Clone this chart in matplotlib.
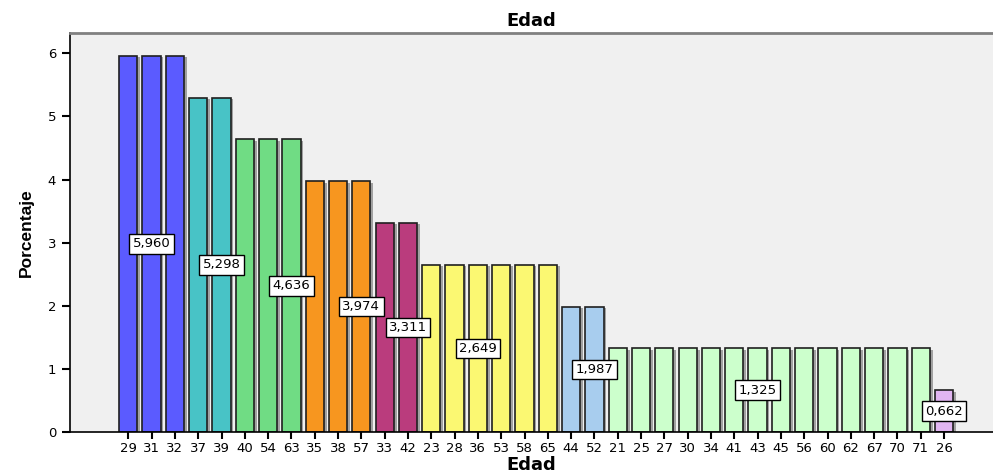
import matplotlib.pyplot as plt
import matplotlib.patheffects as pe

# Edad (age) categories in the order shown, and their percentages
edades = ['29', '31', '32', '37', '39', '40', '54', '63', '35', '38', '57',
          '33', '42', '23', '28', '36', '53', '58', '65', '44', '52',
          '21', '25', '27', '30', '34', '41', '43', '45', '56', '60', '62',
          '67', '70', '71', '26']
grupo_valores = [5.960, 5.298, 4.636, 3.974, 3.311, 2.649, 1.987, 1.325, 0.662]
grupo_tamanos = [3, 2, 3, 3, 2, 6, 2, 14, 1]
grupo_colores = ['#5b5bff', '#48c3c6', '#70dc84', '#f7961f', '#ba3c7d',
                 '#fbf872', '#a8cdee', '#ccffcc', '#e1b5f1']
grupo_etiquetas = ['5,960', '5,298', '4,636', '3,974', '3,311', '2,649',
                   '1,987', '1,325', '0,662']
# bar on which each group's label is placed
etiqueta_idx = [1, 4, 7, 10, 12, 15, 20, 27, 35]

porcentajes = []
colores = []
for v, n, c in zip(grupo_valores, grupo_tamanos, grupo_colores):
    porcentajes += [v] * n
    colores += [c] * n

plt.rcParams['font.family'] = ['DejaVu Sans']

fig = plt.figure(figsize=(9.93, 4.74), dpi=100)
ax = fig.add_axes([0.0705, 0.0886, 0.9295, 0.8414])
ax.set_facecolor('#f0f0f0')

x = list(range(len(edades)))
bars = ax.bar(x, porcentajes, width=0.78, color=colores, edgecolor='#202020',
              linewidth=1.2, zorder=2)
for b in bars:
    b.set_path_effects([pe.SimplePatchShadow(offset=(2, -1), shadow_rgbFace='#808080', alpha=0.7),
                        pe.Normal()])

for v, lab, i in zip(grupo_valores, grupo_etiquetas, etiqueta_idx):
    ax.text(i, v / 2, lab, ha='center', va='center', fontsize=9.5, zorder=3,
            bbox=dict(boxstyle='square,pad=0.25', fc='white', ec='black', lw=1))

ax.set_xlim(-2.5, 37.1)
ax.set_ylim(0, 6.32)
ax.set_xticks(x)
ax.set_xticklabels(edades, fontsize=9.5)
ax.set_yticks([0, 1, 2, 3, 4, 5, 6])
ax.tick_params(axis='y', labelsize=9.5, length=6, width=1.5, direction='out', pad=4)
ax.tick_params(axis='x', length=5, width=1.5, direction='out', pad=2)

for s in ['left', 'bottom']:
    ax.spines[s].set_linewidth(1.2)
    ax.spines[s].set_color('black')
ax.spines['top'].set_color('#808080')
ax.spines['top'].set_linewidth(2)
ax.spines['right'].set_visible(False)

ax.set_title('Edad', fontsize=13, fontweight='bold', pad=5)
ax.set_xlabel('Edad', fontsize=13, fontweight='bold', labelpad=1)
ax.set_ylabel('Porcentaje', fontsize=12.5, fontweight='bold', labelpad=10,
              family=['Liberation Sans', 'DejaVu Sans'])

fig.savefig('out.png', dpi=100)
